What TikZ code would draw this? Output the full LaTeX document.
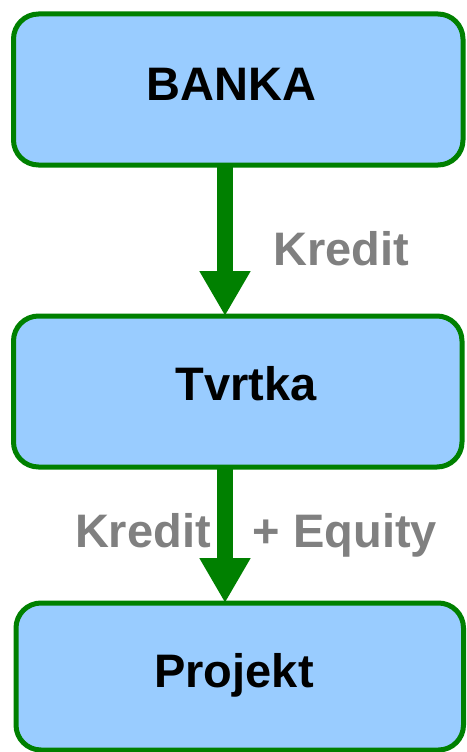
\documentclass[tikz,border=0pt]{standalone}
\usepackage{fontspec}
\setmainfont{Liberation Sans}
\usetikzlibrary{arrows.meta}
\definecolor{boxgreen}{RGB}{0,128,0}
\definecolor{boxfill}{RGB}{153,204,255}
\definecolor{labgray}{RGB}{128,128,128}
\begin{document}
\begin{tikzpicture}[x=1pt,y=-1pt,
  box/.style={draw=boxgreen, fill=boxfill, line width=5pt, rounded corners=25pt, inner sep=0pt, outer sep=0pt},
  boxtext/.style={anchor=base, font=\fontsize{47}{55}\selectfont\bfseries, text=black, inner sep=0pt},
  flowlabel/.style={anchor=base, font=\fontsize{47}{55}\selectfont\bfseries, text=labgray, inner sep=0pt},
  flow/.style={draw=boxgreen, line width=16pt, -{Triangle[width=48pt,length=45pt]}}]
\useasboundingbox (0,0) rectangle (466,752);
\node[box, minimum width=449.5pt, minimum height=151pt] (banka) at (238.25,89.5) {};
\node[box, minimum width=448.5pt, minimum height=151pt] (tvrtka) at (237.75,391.5) {};
\node[box, minimum width=447.5pt, minimum height=147pt] (projekt) at (239.75,676.5) {};
\node[boxtext] (tbanka) at (231.5,100) {BANKA};
\node[boxtext] (ttvrtka) at (246,400) {Tvrtka};
\node[boxtext] (tprojekt) at (234,687) {Projekt};
\coordinate (axis) at (225,0);
\draw[flow] (banka.south -| axis) -- (tvrtka.north -| axis);
\draw[flow] (tvrtka.south -| axis) -- (projekt.north -| axis);
\node[flowlabel] (l1) at (341,265) {Kredit};
\node[flowlabel] (l2) at (256,547) {Kredit\hspace{29pt} + Equity};
\end{tikzpicture}
\end{document}
